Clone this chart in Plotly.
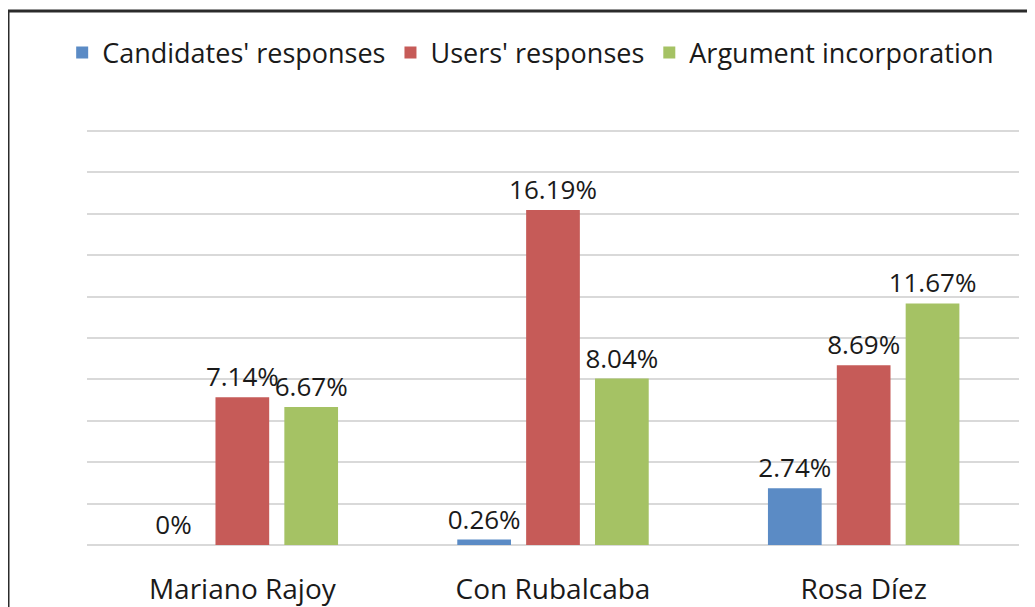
import plotly.graph_objects as go

categories = ["Mariano Rajoy", "Con Rubalcaba", "Rosa Díez"]
candidates = [0, 0.26, 2.74]
users = [7.14, 16.19, 8.69]
argument = [6.67, 8.04, 11.67]
series_names = ["Candidates' responses", "Users' responses", "Argument incorporation"]
colors = ["#5B8BC5", "#C65B58", "#A5C264"]

FONT = "Open Sans"
W, H = 1035, 607
OFF = 8  # page body margin offset
ml, mr, mt, mb = 87 - OFF, 1035 - 1019 + OFF, 130 - OFF, 607 - 545 + OFF

fig = go.Figure()
for name, vals, col in zip(series_names, [candidates, users, argument], colors):
    fig.add_trace(go.Bar(
        x=categories, y=vals, name=name, marker_color=col, marker_line_width=0,
        text=[f"{v:g}%" for v in vals], textposition="outside", constraintext="none",
        textfont=dict(family=FONT, size=26, color="#1a1a1a"),
        cliponaxis=False,
    ))

pw = W - ml - mr
ph = H - mt - mb
fig.add_shape(type="rect", xref="paper", yref="paper",
              x0=(0 - ml) / pw, x1=(1060 - ml) / pw,
              y0=(H - mb - 640) / ph, y1=(H - mb - 3) / ph,
              line=dict(color="#2b2b2b", width=3), fillcolor="rgba(0,0,0,0)", layer="above")

fig.update_layout(
    width=W, height=H,
    margin=dict(l=ml, r=mr, t=mt, b=mb, autoexpand=False),
    paper_bgcolor="white", plot_bgcolor="white",
    barmode="group", bargap=0.335, bargroupgap=0.22,
    font=dict(family=FONT, size=26, color="#1a1a1a"),
    showlegend=True,
    legend=dict(orientation="h", xref="container", yref="container",
                x=0.505, xanchor="center", y=1 - (53 - OFF) / H, yanchor="middle",
                font=dict(family=FONT, size=27, color="#1a1a1a"), itemwidth=30,
                traceorder="normal", tracegroupgap=0),
)
fig.update_xaxes(showgrid=False, showline=False, ticks="", ticklabelstandoff=25,
                 tickfont=dict(family=FONT, size=28, color="#1a1a1a"))
fig.update_yaxes(range=[0, 20.05], tick0=0, dtick=2, showgrid=True, gridcolor="#D9D9D9", gridwidth=1.5,
                 showticklabels=False, zeroline=True, zerolinecolor="#D9D9D9", zerolinewidth=1.5,
                 showline=False, ticks="")

fig.write_html("out.html")
